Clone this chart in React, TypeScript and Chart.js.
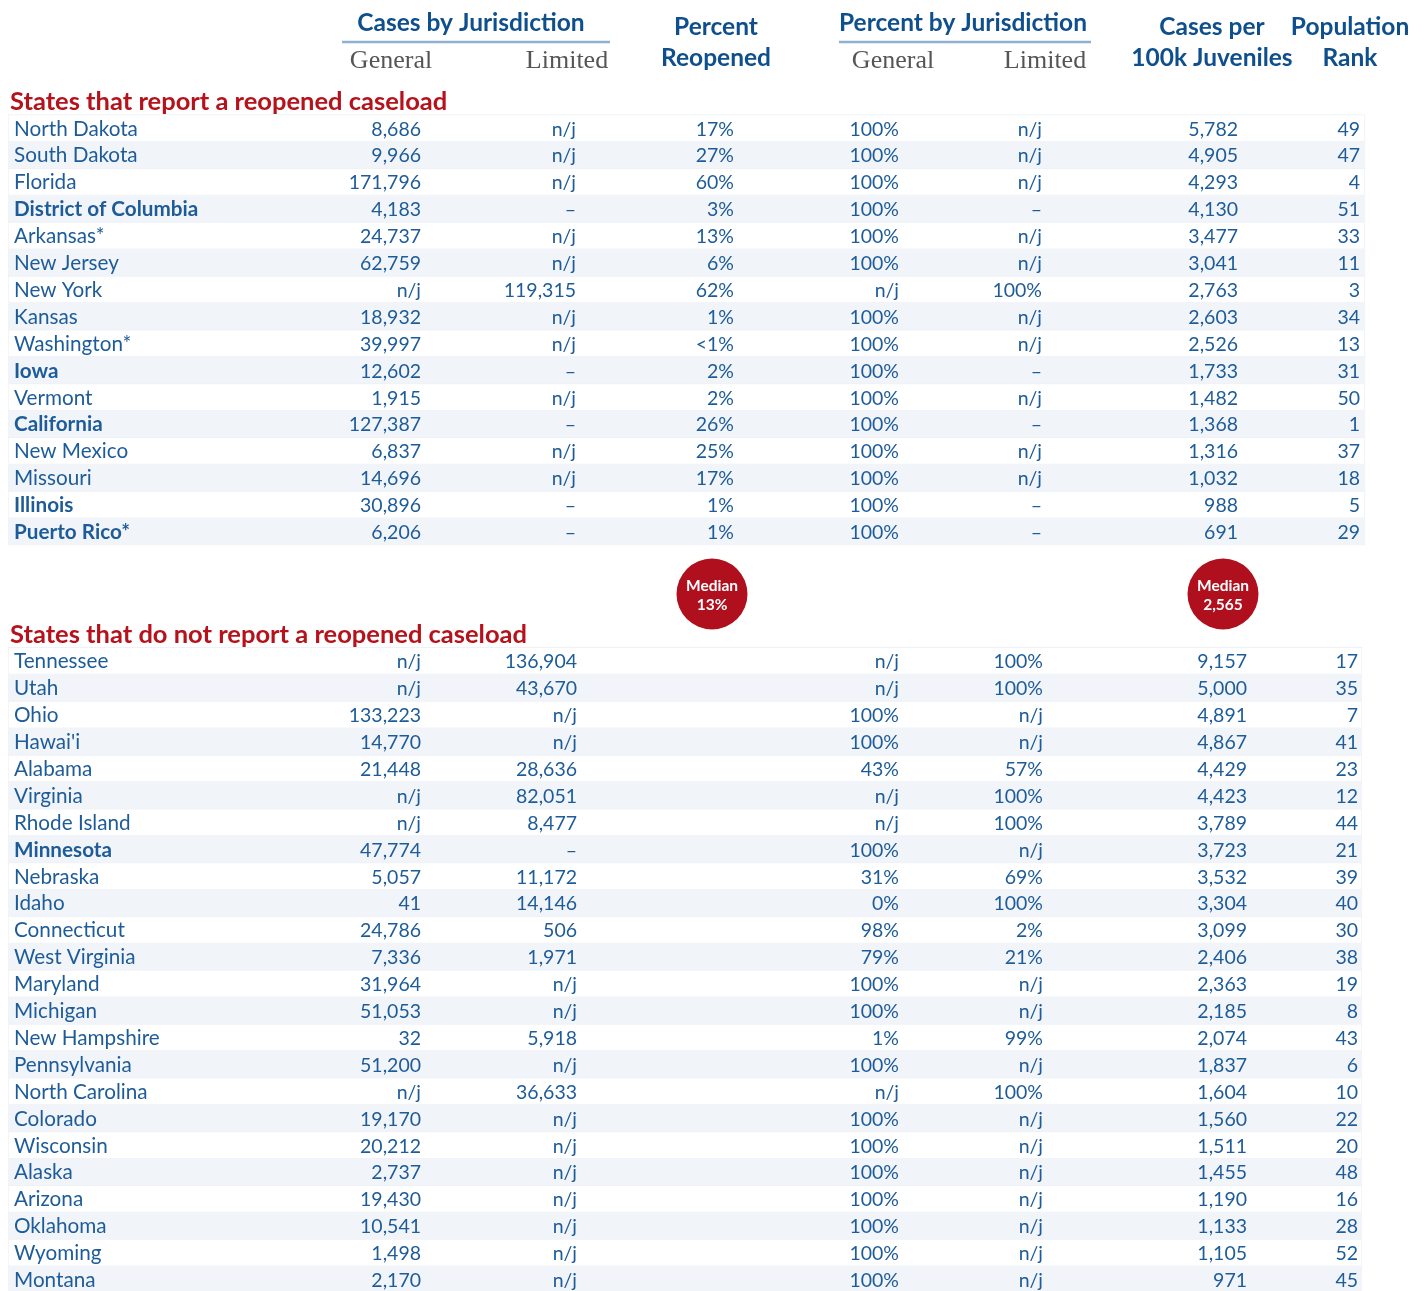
import React, { useEffect, useRef } from 'react';
import { Chart, registerables } from 'chart.js';

Chart.register(...registerables);

type Cell = number | string;

// ---------- DATA ----------
const G1_STATES = [
  'North Dakota', 'South Dakota', 'Florida', 'District of Columbia', 'Arkansas*', 'New Jersey',
  'New York', 'Kansas', 'Washington*', 'Iowa', 'Vermont', 'California', 'New Mexico',
  'Missouri', 'Illinois', 'Puerto Rico*',
];
const G1_BOLD = [false, false, false, true, false, false, false, false, false, true, false, true, false, false, true, true];
const G1_GENERAL: Cell[] = [8686, 9966, 171796, 4183, 24737, 62759, 'n/j', 18932, 39997, 12602, 1915, 127387, 6837, 14696, 30896, 6206];
const G1_LIMITED: Cell[] = ['n/j', 'n/j', 'n/j', '–', 'n/j', 'n/j', 119315, 'n/j', 'n/j', '–', 'n/j', '–', 'n/j', 'n/j', '–', '–'];
const G1_PCT_REOPENED: Cell[] = [17, 27, 60, 3, 13, 6, 62, 1, '<1', 2, 2, 26, 25, 17, 1, 1];
const G1_PCT_GENERAL: Cell[] = [100, 100, 100, 100, 100, 100, 'n/j', 100, 100, 100, 100, 100, 100, 100, 100, 100];
const G1_PCT_LIMITED: Cell[] = ['n/j', 'n/j', 'n/j', '–', 'n/j', 'n/j', 100, 'n/j', 'n/j', '–', 'n/j', '–', 'n/j', 'n/j', '–', '–'];
const G1_PER_100K = [5782, 4905, 4293, 4130, 3477, 3041, 2763, 2603, 2526, 1733, 1482, 1368, 1316, 1032, 988, 691];
const G1_RANK = [49, 47, 4, 51, 33, 11, 3, 34, 13, 31, 50, 1, 37, 18, 5, 29];

const G2_STATES = [
  'Tennessee', 'Utah', 'Ohio', "Hawai'i", 'Alabama', 'Virginia', 'Rhode Island', 'Minnesota',
  'Nebraska', 'Idaho', 'Connecticut', 'West Virginia', 'Maryland', 'Michigan', 'New Hampshire',
  'Pennsylvania', 'North Carolina', 'Colorado', 'Wisconsin', 'Alaska', 'Arizona', 'Oklahoma',
  'Wyoming', 'Montana',
];
const G2_BOLD = G2_STATES.map((s) => s === 'Minnesota');
const G2_GENERAL: Cell[] = ['n/j', 'n/j', 133223, 14770, 21448, 'n/j', 'n/j', 47774, 5057, 41, 24786, 7336, 31964, 51053, 32, 51200, 'n/j', 19170, 20212, 2737, 19430, 10541, 1498, 2170];
const G2_LIMITED: Cell[] = [136904, 43670, 'n/j', 'n/j', 28636, 82051, 8477, '–', 11172, 14146, 506, 1971, 'n/j', 'n/j', 5918, 'n/j', 36633, 'n/j', 'n/j', 'n/j', 'n/j', 'n/j', 'n/j', 'n/j'];
const G2_PCT_GENERAL: Cell[] = ['n/j', 'n/j', 100, 100, 43, 'n/j', 'n/j', 100, 31, 0, 98, 79, 100, 100, 1, 100, 'n/j', 100, 100, 100, 100, 100, 100, 100];
const G2_PCT_LIMITED: Cell[] = [100, 100, 'n/j', 'n/j', 57, 100, 100, 'n/j', 69, 100, 2, 21, 'n/j', 'n/j', 99, 'n/j', 100, 'n/j', 'n/j', 'n/j', 'n/j', 'n/j', 'n/j', 'n/j'];
const G2_PER_100K = [9157, 5000, 4891, 4867, 4429, 4423, 3789, 3723, 3532, 3304, 3099, 2406, 2363, 2185, 2074, 1837, 1604, 1560, 1511, 1455, 1190, 1133, 1105, 971];
const G2_RANK = [17, 35, 7, 41, 23, 12, 44, 21, 39, 40, 30, 38, 19, 8, 43, 6, 10, 22, 20, 48, 16, 28, 52, 45];

const MEDIAN_PCT_REOPENED = 13;
const MEDIAN_PER_100K = 2565;

const SECTION_TITLES = ['States that report a reopened caseload', 'States that do not report a reopened caseload'];
const GROUP_HEADERS = ['Cases by Jurisdiction', 'Percent by Jurisdiction'];
const SUB_HEADERS = ['General', 'Limited'];

// ---------- LAYOUT (style, not data) ----------
const W = 1427;
const H = 1291;
const Y_MIN = -4.762; // slot units (one slot = one table row)
const Y_MAX = 43.231;
const G2_START = 19.807;
const ROW_PX = 27;

const X_NAME = 14;
const G1_COLS = { gen: 421, lim: 576, reo: 734, pgen: 899, plim: 1042, per: 1238, rank: 1360 };
const G2_COLS = { gen: 421, lim: 577, pgen: 899, plim: 1043, per: 1247, rank: 1358 };
const STRIPE_G1 = [8, 1365];
const STRIPE_G2 = [8, 1362];

const BLUE = '#1d5c99';
const HEAD_BLUE = '#0f4f8c';
const RED = '#b5121b';
const STRIPE = '#f1f4f9';

const fmtNum = (v: Cell) => (typeof v === 'number' ? v.toLocaleString('en-US') : v);
const fmtPct = (v: Cell) => (typeof v === 'number' ? `${v}%` : v.startsWith('<') ? `${v}%` : v);

export default function App() {
  const ref = useRef<HTMLCanvasElement | null>(null);

  useEffect(() => {
    document.body.style.margin = '0';
    const canvas = ref.current;
    if (!canvas) return;

    const rowBars: any[] = [];
    const rowColors: string[] = [];
    const rowBorders: string[] = [];
    G1_STATES.forEach((_, i) => {
      rowBars.push({ x: STRIPE_G1, y: i });
      rowColors.push(i % 2 === 1 ? STRIPE : '#ffffff');
      rowBorders.push(i % 2 === 1 ? STRIPE : '#eef2f7');
    });
    G2_STATES.forEach((_, j) => {
      rowBars.push({ x: STRIPE_G2, y: G2_START + j });
      rowColors.push(j % 2 === 1 ? STRIPE : '#ffffff');
      rowBorders.push(j % 2 === 1 ? STRIPE : '#eef2f7');
    });

    const MEDIAN_SLOT = 17.32;

    const textPlugin = {
      id: 'tableText',
      afterDatasetsDraw(chart: any) {
        const ctx = chart.ctx as CanvasRenderingContext2D;
        const xs = chart.scales.x;
        const ys = chart.scales.y;
        const X = (v: number) => xs.getPixelForValue(v);
        const Y = (v: number) => ys.getPixelForValue(v);
        ctx.save();
        ctx.textBaseline = 'alphabetic';

        const txt = (s: string, x: number, y: number, font: string, color: string, align: CanvasTextAlign) => {
          ctx.font = font;
          ctx.fillStyle = color;
          ctx.textAlign = align;
          ctx.fillText(s, x, y);
        };

        const HEAD = 'bold 24.5px Lato';
        const SECT = 'bold 25.5px Lato';
        const SERIF = '26px "Liberation Serif"';
        txt(GROUP_HEADERS[0], X(471), Y(-3.61), HEAD, HEAD_BLUE, 'center');
        txt(GROUP_HEADERS[1], X(963), Y(-3.61), HEAD, HEAD_BLUE, 'center');
        ctx.strokeStyle = '#8fb0d0';
        ctx.lineWidth = 2.5;
        ctx.beginPath();
        ctx.moveTo(X(342), Y(-3.2));
        ctx.lineTo(X(610), Y(-3.2));
        ctx.moveTo(X(839), Y(-3.2));
        ctx.lineTo(X(1091), Y(-3.2));
        ctx.stroke();
        txt(SUB_HEADERS[0], X(391), Y(-2.24), SERIF, '#555555', 'center');
        txt(SUB_HEADERS[1], X(567), Y(-2.24), SERIF, '#555555', 'center');
        txt(SUB_HEADERS[0], X(893), Y(-2.24), SERIF, '#555555', 'center');
        txt(SUB_HEADERS[1], X(1045), Y(-2.24), SERIF, '#555555', 'center');
        txt('Percent', X(716), Y(-3.46), HEAD, HEAD_BLUE, 'center');
        txt('Reopened', X(716), Y(-2.31), HEAD, HEAD_BLUE, 'center');
        txt('Cases per', X(1212), Y(-3.46), HEAD, HEAD_BLUE, 'center');
        txt('100k Juveniles', X(1212), Y(-2.31), HEAD, HEAD_BLUE, 'center');
        txt('Population', X(1350), Y(-3.46), HEAD, HEAD_BLUE, 'center');
        txt('Rank', X(1350), Y(-2.31), HEAD, HEAD_BLUE, 'center');

        txt(SECTION_TITLES[0], X(10), Y(-0.673), SECT, RED, 'left');
        txt(SECTION_TITLES[1], X(10), Y(19.141), SECT, RED, 'left');

        const BODY = '20.7px Lato';
        const BODY_B = 'bold 20.7px Lato';
        const NUM = '19.5px Lato';
        const off = 7.5;

        G1_STATES.forEach((name, i) => {
          const y = Y(i) + off;
          txt(name, X(X_NAME), y, G1_BOLD[i] ? BODY_B : BODY, BLUE, 'left');
          txt(fmtNum(G1_GENERAL[i]), X(G1_COLS.gen), y, NUM, BLUE, 'right');
          txt(fmtNum(G1_LIMITED[i]), X(G1_COLS.lim), y, NUM, BLUE, 'right');
          txt(fmtPct(G1_PCT_REOPENED[i]), X(G1_COLS.reo), y, NUM, BLUE, 'right');
          txt(fmtPct(G1_PCT_GENERAL[i]), X(G1_COLS.pgen), y, NUM, BLUE, 'right');
          txt(fmtPct(G1_PCT_LIMITED[i]), X(G1_COLS.plim), y, NUM, BLUE, 'right');
          txt(fmtNum(G1_PER_100K[i]), X(G1_COLS.per), y, NUM, BLUE, 'right');
          txt(String(G1_RANK[i]), X(G1_COLS.rank), y, NUM, BLUE, 'right');
        });
        G2_STATES.forEach((name, j) => {
          const y = Y(G2_START + j) + off;
          txt(name, X(X_NAME), y, G2_BOLD[j] ? BODY_B : BODY, BLUE, 'left');
          txt(fmtNum(G2_GENERAL[j]), X(G2_COLS.gen), y, NUM, BLUE, 'right');
          txt(fmtNum(G2_LIMITED[j]), X(G2_COLS.lim), y, NUM, BLUE, 'right');
          txt(fmtPct(G2_PCT_GENERAL[j]), X(G2_COLS.pgen), y, NUM, BLUE, 'right');
          txt(fmtPct(G2_PCT_LIMITED[j]), X(G2_COLS.plim), y, NUM, BLUE, 'right');
          txt(fmtNum(G2_PER_100K[j]), X(G2_COLS.per), y, NUM, BLUE, 'right');
          txt(String(G2_RANK[j]), X(G2_COLS.rank), y, NUM, BLUE, 'right');
        });

        const MED = 'bold 15.5px Lato';
        txt('Median', X(712), Y(MEDIAN_SLOT) - 3, MED, '#ffffff', 'center');
        txt(`${MEDIAN_PCT_REOPENED}%`, X(712), Y(MEDIAN_SLOT) + 16, MED, '#ffffff', 'center');
        txt('Median', X(1223), Y(MEDIAN_SLOT) - 3, MED, '#ffffff', 'center');
        txt(MEDIAN_PER_100K.toLocaleString('en-US'), X(1223), Y(MEDIAN_SLOT) + 16, MED, '#ffffff', 'center');
        ctx.restore();
      },
    };

    const chart = new Chart(canvas, {
      type: 'bar',
      data: {
        datasets: [
          {
            type: 'bar',
            indexAxis: 'y',
            data: rowBars,
            backgroundColor: rowColors,
            borderColor: rowBorders,
            borderWidth: 1,
            borderSkipped: false,
            barThickness: ROW_PX,
          } as any,
          {
            type: 'scatter',
            data: [
              { x: 712, y: MEDIAN_SLOT },
              { x: 1223, y: MEDIAN_SLOT },
            ],
            pointRadius: 35.5,
            pointHoverRadius: 35.5,
            backgroundColor: '#b0101e',
            borderWidth: 0,
            clip: false,
          } as any,
        ],
      },
      options: {
        indexAxis: 'y',
        responsive: false,
        devicePixelRatio: 1,
        animation: false,
        events: [],
        layout: { padding: 0, autoPadding: false },
        plugins: { legend: { display: false }, tooltip: { enabled: false }, title: { display: false } },
        scales: {
          x: { type: 'linear', min: 0, max: W, display: false, offset: false, grace: 0, bounds: 'data' },
          y: { type: 'linear', min: Y_MIN, max: Y_MAX, reverse: true, display: false, offset: false, grace: 0, bounds: 'data' },
        },
      } as any,
      plugins: [textPlugin],
    });

    let alive = true;
    if ((document as any).fonts && (document as any).fonts.ready) {
      (document as any).fonts.ready.then(() => {
        if (alive) chart.draw();
      });
    }

    return () => {
      alive = false;
      chart.destroy();
    };
  }, []);

  return (
    <div style={{ width: W, height: H, background: '#ffffff' }}>
      <canvas ref={ref} width={W} height={H} style={{ display: 'block' }} />
    </div>
  );
}
